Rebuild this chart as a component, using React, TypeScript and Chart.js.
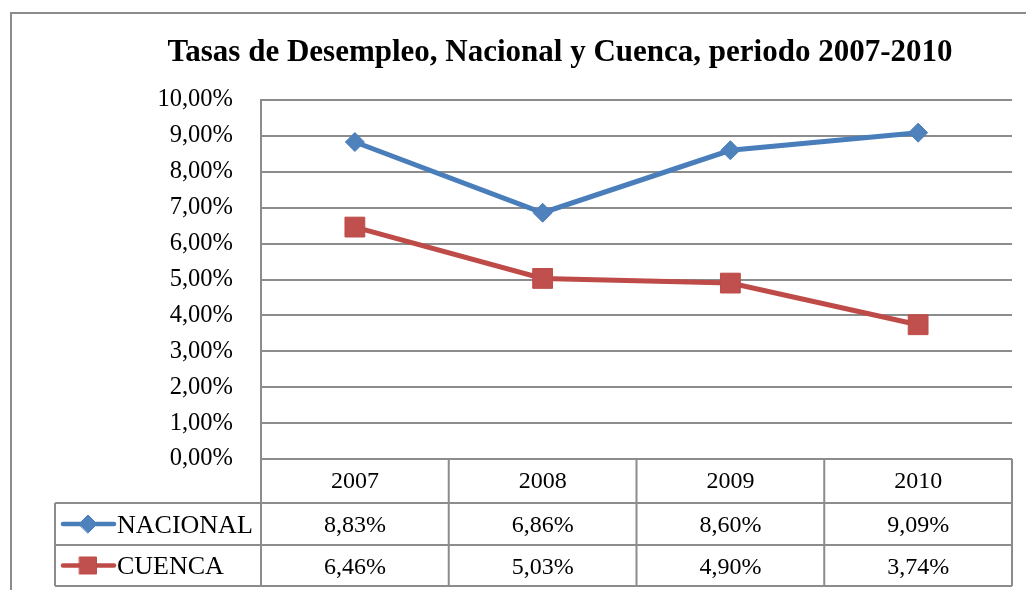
import React, { useEffect, useRef } from "react";
import { Chart, registerables } from "chart.js";

Chart.register(...registerables);

const TITLE = "Tasas de Desempleo, Nacional y Cuenca, periodo 2007-2010";
const categories = ["2007", "2008", "2009", "2010"];
const seriesNames = ["NACIONAL", "CUENCA"];
const nacional = [8.83, 6.86, 8.6, 9.09];
const cuenca = [6.46, 5.03, 4.9, 3.74];
const yTickValues = [0, 1, 2, 3, 4, 5, 6, 7, 8, 9, 10];

const FONT = "'Liberation Serif', 'Times New Roman', serif";
const GRID = "#8c8c8c";
const lineColors = ["#4A7EBB", "#BE4B48"];
const fillColors = ["#4F81BD", "#C0504D"];
const pointStyles = ["rectRot", "rect"];

const fmt = (v: number) => v.toFixed(2).replace(".", ",") + "%";

function drawMarker(ctx: CanvasRenderingContext2D, style: string, x: number, y: number, r: number, fill: string, stroke: string) {
  ctx.beginPath();
  if (style === "rectRot") {
    ctx.moveTo(x - r, y);
    ctx.lineTo(x, y - r);
    ctx.lineTo(x + r, y);
    ctx.lineTo(x, y + r);
    ctx.closePath();
  } else {
    const s = Math.SQRT1_2 * r;
    ctx.rect(x - s, y - s, 2 * s, 2 * s);
  }
  ctx.fillStyle = fill;
  ctx.fill();
  ctx.strokeStyle = stroke;
  ctx.lineWidth = 1;
  ctx.stroke();
}

const framePlugin = {
  id: "frameAndTable",
  beforeDraw(chart: any) {
    const ctx = chart.ctx as CanvasRenderingContext2D;
    ctx.save();
    ctx.fillStyle = "#ffffff";
    ctx.fillRect(0, 0, chart.width, chart.height);
    ctx.restore();
  },
  afterDraw(chart: any) {
    const ctx = chart.ctx as CanvasRenderingContext2D;
    const area = chart.chartArea;
    const xs = chart.scales.x;
    const n = categories.length;
    const colW = (area.right - area.left) / n;
    const headerBottom = area.bottom + 44;
    const row1Bottom = headerBottom + 42;
    const row2Bottom = row1Bottom + 41;
    const legendLeft = 55;
    ctx.save();
    // outer frame
    ctx.strokeStyle = GRID;
    ctx.lineWidth = 2;
    ctx.beginPath();
    ctx.moveTo(11, chart.height + 5);
    ctx.lineTo(11, 13);
    ctx.lineTo(chart.width - 1, 13);
    ctx.stroke();

    // title
    ctx.fillStyle = "#000";
    ctx.font = `bold 31px ${FONT}`;
    ctx.textAlign = "center";
    ctx.textBaseline = "alphabetic";
    ctx.fillText(TITLE, 560, 61);

    // table grid
    ctx.strokeStyle = GRID;
    ctx.lineWidth = 2;
    ctx.beginPath();
    ctx.moveTo(area.left, area.top);
    ctx.lineTo(area.left, row2Bottom);
    for (let i = 1; i <= n; i++) {
      const x = area.left + colW * i;
      ctx.moveTo(x, area.bottom);
      ctx.lineTo(x, row2Bottom);
    }
    ctx.moveTo(legendLeft, headerBottom);
    ctx.lineTo(legendLeft, row2Bottom);
    [headerBottom, row1Bottom, row2Bottom].forEach((y) => {
      ctx.moveTo(legendLeft, y);
      ctx.lineTo(area.right, y);
    });
    ctx.stroke();

    // header text
    ctx.fillStyle = "#000";
    ctx.font = `24px ${FONT}`;
    ctx.textAlign = "center";
    ctx.textBaseline = "middle";
    const headerY = (area.bottom + headerBottom) / 2 + 1;
    categories.forEach((c, i) => {
      ctx.fillText(c, xs.getPixelForValue(i), headerY);
    });

    const rows = [nacional, cuenca];
    const rowYs = [(headerBottom + row1Bottom) / 2 + 2, (row1Bottom + row2Bottom) / 2 + 2];
    rows.forEach((vals, r) => {
      const y = rowYs[r];
      ctx.textAlign = "center";
      ctx.fillStyle = "#000";
      ctx.font = `24px ${FONT}`;
      vals.forEach((v, i) => {
        ctx.fillText(fmt(v), xs.getPixelForValue(i), y);
      });
      // legend key
      const ly = y - 2;
      ctx.strokeStyle = lineColors[r];
      ctx.lineWidth = 4.5;
      ctx.lineCap = "round";
      ctx.beginPath();
      ctx.moveTo(63, ly);
      ctx.lineTo(114, ly);
      ctx.stroke();
      drawMarker(ctx, pointStyles[r], 88, ly, r === 0 ? 9 : 12, fillColors[r], lineColors[r]);
      ctx.fillStyle = "#000";
      ctx.textAlign = "left";
      ctx.font = `26px ${FONT}`;
      ctx.fillText(seriesNames[r], 117, y);
    });
    ctx.restore();
  },
};

export default function App() {
  const ref = useRef<HTMLCanvasElement | null>(null);
  useEffect(() => {
    if (!ref.current) return;
    const chart = new Chart(ref.current, {
      type: "line",
      data: {
        labels: categories,
        datasets: [
          {
            label: seriesNames[0],
            data: nacional,
            borderColor: lineColors[0],
            backgroundColor: fillColors[0],
            borderWidth: 5,
            pointStyle: "rectRot",
            pointRadius: 9.5,
            pointBorderColor: lineColors[0],
            pointBackgroundColor: fillColors[0],
            pointBorderWidth: 1,
            tension: 0,
          },
          {
            label: seriesNames[1],
            data: cuenca,
            borderColor: lineColors[1],
            backgroundColor: fillColors[1],
            borderWidth: 5,
            pointStyle: "rect",
            pointRadius: 14,
            pointBorderColor: lineColors[1],
            pointBackgroundColor: fillColors[1],
            pointBorderWidth: 1,
            tension: 0,
          },
        ],
      },
      options: {
        responsive: false,
        animation: false,
        layout: { padding: { top: 100, right: 15, bottom: 131, left: 0 } },
        plugins: {
          legend: { display: false },
          title: { display: false },
          tooltip: { enabled: false },
        },
        scales: {
          x: {
            display: false,
            offset: true,
          },
          y: {
            min: 0,
            max: 10,
            afterFit: (scale: any) => {
              scale.width = 261;
            },
            afterBuildTicks: (scale: any) => {
              scale.ticks = yTickValues.map((v) => ({ value: v }));
            },
            ticks: {
              padding: 28,
              color: "#000",
              font: { family: FONT, size: 24.5 },
              callback: (v: any) => fmt(Number(v)),
              autoSkip: false,
            },
            grid: { color: GRID, lineWidth: 2, drawTicks: false },
            border: { display: true, color: GRID, width: 2 },
          },
        },
      },
      plugins: [framePlugin],
    });
    return () => chart.destroy();
  }, []);
  return (
    <canvas
      ref={ref}
      width={1027}
      height={590}
      style={{ position: "absolute", left: 0, top: 0, width: 1027, height: 590 }}
    />
  );
}
